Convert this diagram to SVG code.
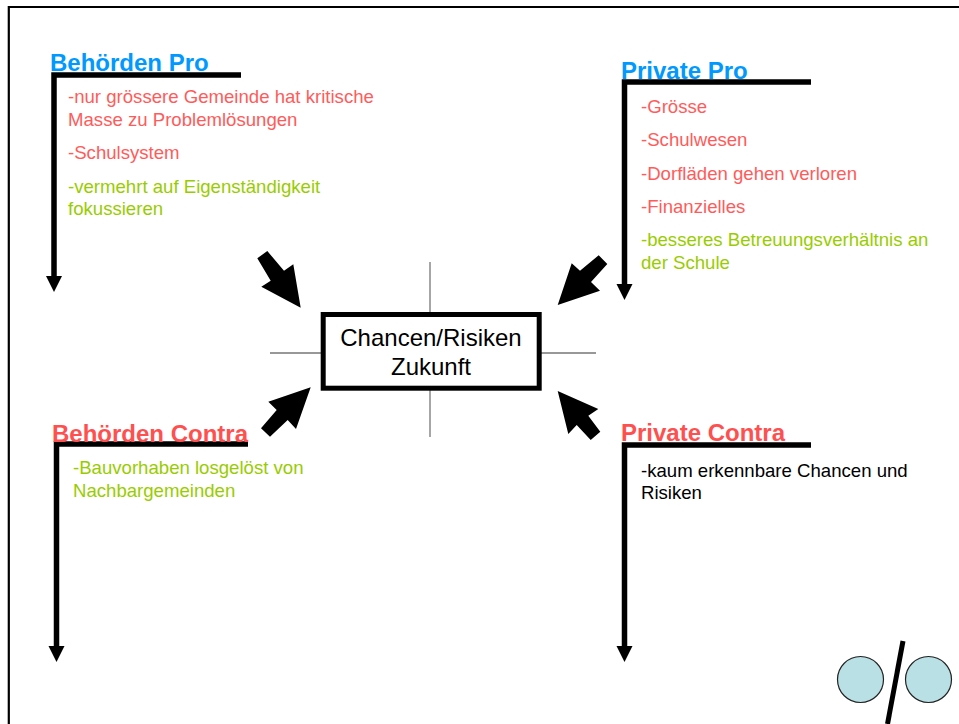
<svg xmlns="http://www.w3.org/2000/svg" width="959" height="724" viewBox="0 0 959 724">
<style>
text{font-family:"Liberation Sans",Arial,sans-serif;font-size:18.6px}
.h{font-size:24px;font-weight:bold}
.m{font-size:24px;text-anchor:middle}
.r{fill:#ff5b5b}.g{fill:#99cc00}.k{fill:#000}.b{fill:#0099ff}
.hr{fill:#ff5050}
.l{fill:none;stroke:#000;stroke-width:5.5}
.t{stroke:#777;stroke-width:1.3;fill:none}
.bl{fill:#000}
.c{fill:#b9e0e4;stroke:#222;stroke-width:1.2}
</style>
<rect width="959" height="724" fill="#fff"/>
<path d="M8.800 724V7H959" fill="none" stroke="#000" stroke-width="2.2"/>
<g id="connectors">
<path class="t" d="M430 262V314M430 389V437M270 353H323M540 353H596"/>
<path class="l" d="M241 75H54V278"/><path class="bl" d="M46 276H62L54 292Z"/>
<path class="l" d="M811 82H624.500V284"/><path class="bl" d="M616.500 284H632.500L624.500 300Z"/>
<path class="l" d="M248 444H56.500V648"/><path class="bl" d="M48.500 646H64.500L56.500 662Z"/>
<path class="l" d="M811 445H624.500V648"/><path class="bl" d="M616.500 646H632.500L624.500 662Z"/>
<path class="bl" d="M257.300 258.300L267.300 251L284 270.700L293.300 264.300L300.700 307.700L261.300 286.700L270.700 280.700Z"/>
<path class="bl" d="M607.300 264L598.700 255.300L580 270.700L571.700 263.300L557.700 305L600 290.700L591 282Z"/>
<path class="bl" d="M261 428.300L270 436.700L287.700 420L296 429L310.700 387.300L268.300 401.700L276.700 410Z"/>
<path class="bl" d="M600.300 431.700L590.700 440L576.700 425L568.300 434L557.700 391L598.300 409L588.300 415.700Z"/>
</g>
<g id="center"><rect x="323.200" y="314.500" width="216" height="73.700" fill="#fff" stroke="#000" stroke-width="5"/>
<text class="m" x="431" y="346">Chancen/Risiken</text>
<text class="m" x="431" y="375">Zukunft</text></g>
<g id="behoerden-pro"><text class="h b" x="50" y="71">Behörden Pro</text>
<text class="r" x="68" y="103">-nur grössere Gemeinde hat kritische</text>
<text class="r" x="68" y="126">Masse zu Problemlösungen</text>
<text class="r" x="68" y="159">-Schulsystem</text>
<text class="g" x="68" y="193">-vermehrt auf Eigenständigkeit</text>
<text class="g" x="68" y="215">fokussieren</text></g>
<g id="private-pro"><text class="h b" x="621" y="79">Private Pro</text>
<text class="r" x="641" y="113">-Grösse</text>
<text class="r" x="641" y="146">-Schulwesen</text>
<text class="r" x="641" y="180">-Dorfläden gehen verloren</text>
<text class="r" x="641" y="213">-Finanzielles</text>
<text class="g" x="641" y="246">-besseres Betreuungsverhältnis an</text>
<text class="g" x="641" y="269">der Schule</text></g>
<g id="behoerden-contra"><text class="h hr" x="52" y="442">Behörden Contra</text>
<text class="g" x="73" y="474">-Bauvorhaben losgelöst von</text>
<text class="g" x="73" y="497">Nachbargemeinden</text></g>
<g id="private-contra"><text class="h hr" x="621" y="441">Private Contra</text>
<text class="k" x="641" y="477">-kaum erkennbare Chancen und</text>
<text class="k" x="641" y="499">Risiken</text></g>
<g id="logo"><circle class="c" cx="860.500" cy="679.500" r="23"/><circle class="c" cx="928.500" cy="679.500" r="23"/>
<path d="M903 641L887.500 724" stroke="#000" stroke-width="5"/></g>
</svg>
